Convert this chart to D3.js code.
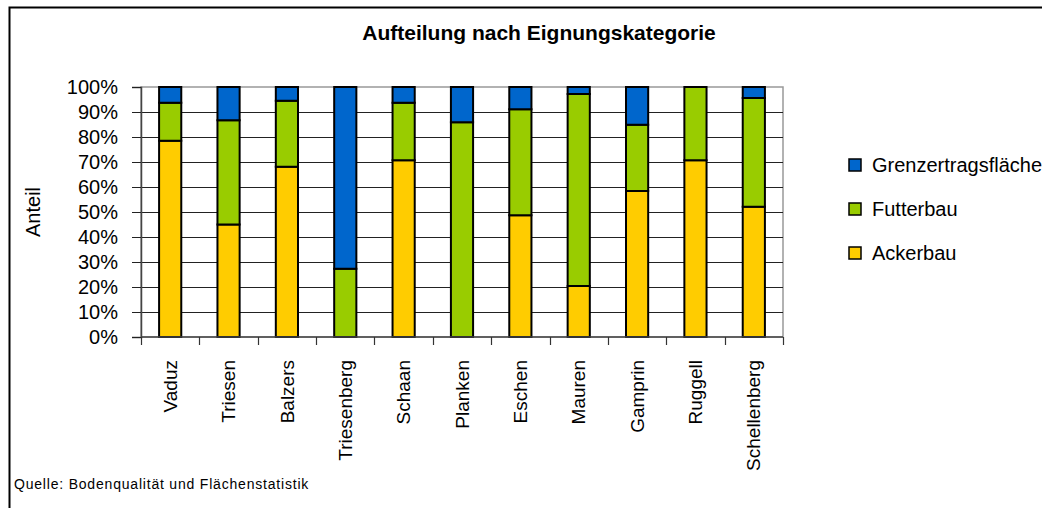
<!DOCTYPE html>
<html>
<head>
<meta charset="utf-8">
<script src="https://cdn.jsdelivr.net/npm/d3@7"></script>
<style>
  body { margin: 0; background: #fff; }
  text { font-family: "Liberation Sans", Arial, sans-serif; fill: #000; }
</style>
</head>
<body>
<div id="chart"></div>
<script>
// values, in percent
var gemeinden = ["Vaduz", "Triesen", "Balzers", "Triesenberg", "Schaan", "Planken", "Eschen", "Mauren", "Gamprin", "Ruggell", "Schellenberg"];
var ackerbau = [78.5, 45.0, 68.1, 0, 70.7, 0, 48.7, 20.4, 58.4, 70.7, 52.1];
var futterbau = [15.2, 41.7, 26.4, 27.3, 23.0, 85.9, 42.4, 76.8, 26.5, 29.3, 43.5];
var grenzertrag = [6.3, 13.3, 5.5, 72.7, 6.3, 14.1, 8.9, 2.8, 15.1, 0, 4.4];
var yTicks = [0, 10, 20, 30, 40, 50, 60, 70, 80, 90, 100];

var seriesNames = ["Ackerbau", "Futterbau", "Grenzertragsfläche"];
var seriesColors = ["#FFCC00", "#99CC00", "#0066CC"];

var w = 1042, h = 508;
var plotLeft = 141, plotRight = 783, plotTop = 87, plotBottom = 337;

var svg = d3.select("#chart").append("svg").attr("width", w).attr("height", h);

// outer frame (runs off the right and bottom edge)
svg.append("path").attr("d", "M9.5," + (h + 5) + "V7.5H" + (w + 5))
  .attr("fill", "none").attr("stroke", "#000").attr("stroke-width", 2);

svg.append("text").text("Aufteilung nach Eignungskategorie")
  .attr("x", 539).attr("y", 40).attr("text-anchor", "middle")
  .style("font-size", "21px").style("font-weight", "bold");

var rows = gemeinden.map(function(g, i) {
  return { name: g, Ackerbau: ackerbau[i], Futterbau: futterbau[i], "Grenzertragsfläche": grenzertrag[i] };
});

var x = d3.scaleBand().domain(gemeinden).range([plotLeft, plotRight]).paddingInner(0.62).paddingOuter(0.31);
var y = d3.scaleLinear().domain([0, 100]).range([plotBottom, plotTop]);

// plot area border (light)
svg.append("rect").attr("x", plotLeft).attr("y", plotTop).attr("width", plotRight - plotLeft).attr("height", plotBottom - plotTop)
  .attr("fill", "#fff").attr("stroke", "#999").attr("stroke-width", 1.5);

// horizontal grid lines
svg.append("g").selectAll("line").data(yTicks.slice(1, -1)).join("line")
  .attr("x1", plotLeft).attr("x2", plotRight)
  .attr("y1", function(d) { return Math.round(y(d)) + 0.5; })
  .attr("y2", function(d) { return Math.round(y(d)) + 0.5; })
  .attr("stroke", "#222").attr("stroke-width", 1.2);

var stack = d3.stack().keys(seriesNames);
var layers = stack(rows);

svg.append("g").selectAll("g").data(layers).join("g")
  .attr("fill", function(d, i) { return seriesColors[i]; })
  .selectAll("rect").data(function(d) { return d.filter(function(s) { return s[1] - s[0] > 0; }); }).join("rect")
  .attr("x", function(d) { return x(d.data.name); })
  .attr("width", x.bandwidth())
  .attr("y", function(d) { return y(d[1]); })
  .attr("height", function(d) { return y(d[0]) - y(d[1]); })
  .attr("stroke", "#000").attr("stroke-width", 2);

// y axis
var yAxis = svg.append("g").attr("transform", "translate(" + plotLeft + ",0)")
  .call(d3.axisLeft(y).tickValues(yTicks).tickSize(9).tickPadding(14).tickFormat(function(d) { return d + "%"; }));
yAxis.select(".domain").attr("stroke", "#444").attr("stroke-width", 1.5);
yAxis.selectAll(".tick line").attr("stroke", "#222");
yAxis.selectAll("text").style("font-size", "20px").style("font-family", "Liberation Sans, Arial, sans-serif").attr("fill", "#000");

// x axis: ticks sit between the categories
var xAxis = svg.append("g").attr("transform", "translate(0," + plotBottom + ")");
xAxis.append("line").attr("x1", plotLeft).attr("x2", plotRight).attr("stroke", "#444").attr("stroke-width", 1.5);
xAxis.selectAll("line.tk").data(d3.range(gemeinden.length + 1)).join("line").attr("class", "tk")
  .attr("x1", function(i) { return Math.round(plotLeft + i * x.step()) + 0.5; })
  .attr("x2", function(i) { return Math.round(plotLeft + i * x.step()) + 0.5; })
  .attr("y1", 0).attr("y2", 8).attr("stroke", "#333").attr("stroke-width", 1.2);
xAxis.selectAll("text").data(gemeinden).join("text")
  .text(function(d) { return d; })
  .attr("transform", function(d) { return "translate(" + (x(d) + x.bandwidth() / 2) + ",23) rotate(-90)"; })
  .attr("text-anchor", "end").attr("dy", "0.35em")
  .style("font-size", "19px");

svg.append("text").text("Anteil")
  .attr("transform", "translate(40," + ((plotTop + plotBottom) / 2) + ") rotate(-90)")
  .attr("text-anchor", "middle")
  .style("font-size", "20px");

// legend, top entry first
var legend = svg.append("g").selectAll("g").data(seriesNames.slice().reverse()).join("g")
  .attr("transform", function(d, i) { return "translate(849," + (165 + i * 44) + ")"; });
legend.append("rect").attr("x", 0).attr("y", -6).attr("width", 12).attr("height", 12)
  .attr("fill", function(d) { return seriesColors[seriesNames.indexOf(d)]; })
  .attr("stroke", "#000").attr("stroke-width", 1.5);
legend.append("text").text(function(d) { return d; })
  .attr("x", 23).attr("dy", "0.36em").style("font-size", "20px");

svg.append("text").text("Quelle: Bodenqualität und Flächenstatistik")
  .attr("x", 14).attr("y", 489).style("font-size", "14px").style("letter-spacing", "0.8px");
</script>
</body>
</html>
